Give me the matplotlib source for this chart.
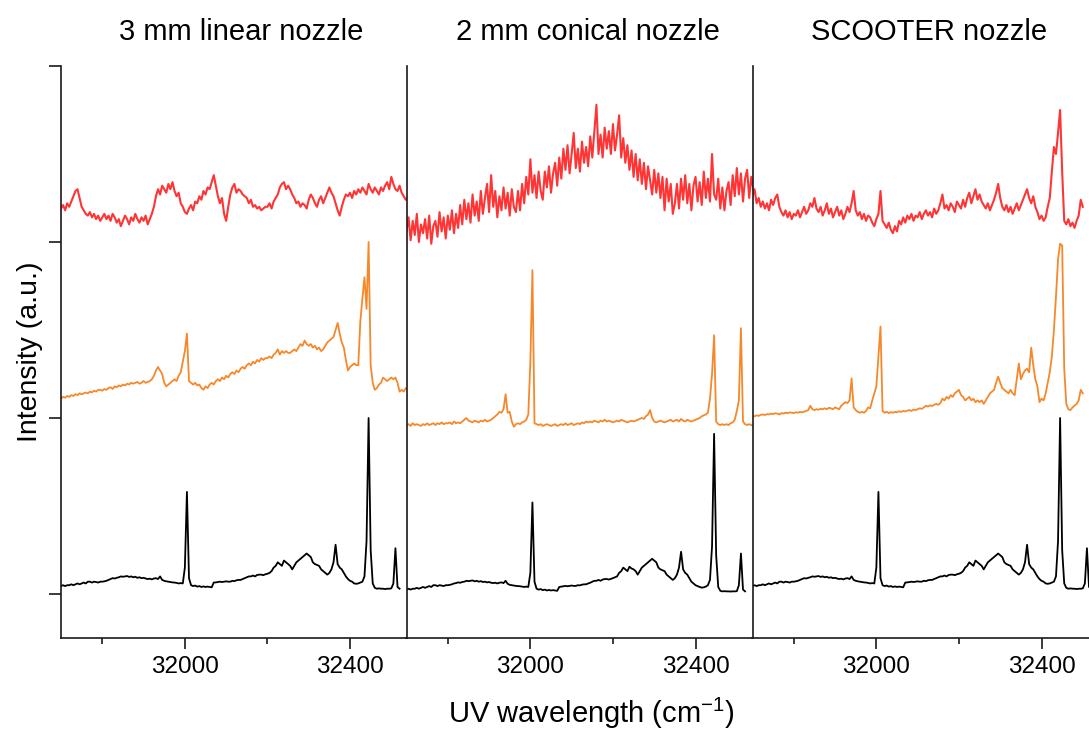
import numpy as np
import matplotlib.pyplot as plt

plt.rcParams['font.family'] = ['Liberation Sans', 'DejaVu Sans']
plt.rcParams['mathtext.fontset'] = 'custom'
plt.rcParams['mathtext.rm'] = 'Liberation Sans'
plt.rcParams['mathtext.default'] = 'regular'

# common wavenumber grid (cm-1), 5 cm-1 step
wavenumber = np.arange(31700, 32545, 5)

titles = ['3 mm linear nozzle', '2 mm conical nozzle', 'SCOOTER nozzle']

# reference spectrum (black), panels 1 and 3
black_ref = [
    .045, .05, .045, .05, .05, .055, .05, .055, .06, .055,
    .06, .065, .06, .07, .07, .065, .07, .068, .065, .07,
    .07, .072, .075, .08, .085, .09, .088, .092, .095, .1,
    .098, .1, .102, .097, .1, .095, .098, .092, .095, .09,
    .092, .088, .085, .087, .083, .088, .09, .085, .1, .08,
    .075, .072, .07, .068, .066, .065, .063, .06, .062, .06,
    .15, .58, .09, .05, .045, .048, .042, .045, .04, .043,
    .04, .042, .04, .038, .065, .066, .068, .07, .068, .07,
    .072, .07, .07, .075, .073, .078, .08, .08, .085, .09,
    .095, .1, .1, .105, .1, .108, .11, .11, .107, .112,
    .115, .12, .13, .15, .16, .18, .17, .16, .19, .18,
    .17, .16, .14, .16, .18, .19, .2, .21, .22, .23,
    .22, .21, .18, .17, .165, .16, .14, .13, .12, .11,
    .12, .14, .18, .28, .17, .15, .14, .12, .1, .085,
    .075, .07, .06, .058, .06, .065, .07, .1, .3, 1.0,
    .25, .06, .035, .03, .032, .03, .03, .028, .03, .03,
    .032, .06, .26, .04, .03]

# reference spectrum as drawn in panel 2
black_conical = [
    .025, .03, .025, .03, .03, .035, .03, .035, .04, .035,
    .04, .045, .04, .05, .05, .045, .05, .048, .045, .05,
    .05, .052, .055, .06, .062, .066, .064, .068, .07, .075,
    .073, .075, .077, .072, .075, .07, .073, .068, .07, .066,
    .068, .064, .062, .064, .06, .064, .066, .062, .075, .058,
    .052, .05, .048, .046, .045, .044, .042, .04, .042, .04,
    .12, .52, .07, .03, .025, .028, .022, .025, .02, .023,
    .02, .022, .02, .018, .04, .042, .044, .046, .044, .046,
    .048, .046, .046, .05, .049, .053, .055, .055, .06, .064,
    .07, .075, .075, .08, .075, .082, .085, .085, .082, .086,
    .09, .095, .1, .12, .13, .15, .14, .13, .155, .145,
    .14, .13, .11, .13, .15, .16, .17, .18, .19, .2,
    .19, .18, .15, .14, .135, .13, .11, .1, .09, .08,
    .09, .11, .15, .24, .14, .12, .11, .09, .07, .06,
    .05, .045, .04, .036, .038, .042, .05, .08, .27, .91,
    .22, .04, .018, .015, .016, .015, .015, .014, .015, .015,
    .016, .05, .23, .025, .015]

orange_linear = [
    .11, .12, .115, .125, .12, .13, .125, .135, .13, .14,
    .135, .14, .145, .14, .15, .145, .155, .15, .16, .16,
    .155, .165, .16, .17, .175, .165, .18, .175, .185, .18,
    .19, .185, .195, .19, .2, .195, .2, .205, .195, .2,
    .21, .2, .205, .21, .22, .24, .27, .29, .27, .25,
    .2, .18, .19, .2, .21, .22, .21, .24, .26, .32,
    .38, .48, .21, .2, .19, .2, .185, .19, .17, .16,
    .18, .17, .19, .2, .19, .21, .22, .21, .23, .22,
    .24, .23, .25, .26, .25, .27, .26, .28, .29, .28,
    .3, .31, .3, .32, .31, .33, .32, .34, .33, .34,
    .34, .35, .34, .36, .37, .39, .36, .38, .37, .38,
    .37, .37, .38, .39, .38, .4, .42, .41, .44, .42,
    .41, .42, .4, .41, .39, .4, .38, .39, .41, .43,
    .44, .45, .46, .5, .54, .48, .43, .4, .33, .27,
    .29, .3, .31, .3, .3, .55, .68, .8, .62, 1.0,
    .3, .2, .16, .17, .19, .2, .23, .22, .21, .22,
    .23, .22, .23, .2, .15, .16, .15, .17, .16]

orange_conical = [
    -.04, -.035, -.045, -.03, -.04, -.035, -.04, -.045, -.035, -.04,
    -.03, -.04, -.035, -.03, -.04, -.03, -.035, -.025, -.035, -.03,
    -.03, -.025, -.035, -.02, -.03, -.025, -.03, -.02, -.01, .0,
    -.015, -.02, -.025, -.015, -.02, -.025, -.015, -.02, -.01, -.02,
    -.015, -.01, .0, .01, .02, .035, .03, .05, .135, .03,
    .035, -.02, -.05, -.035, -.03, -.035, -.025, -.02, -.01, .02,
    .32, .84, -.03, -.035, -.04, -.035, -.045, -.04, -.035, -.04,
    -.045, -.04, -.035, -.045, -.04, -.035, -.04, -.03, -.04, -.035,
    -.03, -.04, -.035, -.03, -.035, -.025, -.03, -.02, -.025, -.02,
    -.025, -.015, -.02, -.025, -.015, -.02, -.01, -.02, -.015, -.02,
    -.025, -.02, -.015, -.02, -.01, -.015, -.02, -.025, -.02, -.015,
    -.02, -.015, -.01, -.005, .0, -.005, .01, .02, .045, .0,
    -.02, -.025, -.02, -.015, -.02, -.025, -.02, -.015, -.01, -.02,
    -.015, -.01, -.02, -.005, -.015, -.02, -.01, -.015, -.02, -.015,
    -.01, -.005, .0, .01, .015, .02, .03, .11, .25, .47,
    -.02, -.035, -.04, -.035, -.04, -.035, -.04, -.03, -.025, -.01,
    .04, .1, .51, -.02, -.035, -.04, -.035, -.04, -.045]

orange_scooter = [
    .008, .01, .015, .012, .018, .02, .017, .022, .02, .025,
    .022, .027, .025, .02, .028, .025, .03, .027, .032, .03,
    .028, .033, .03, .035, .032, .036, .04, .045, .07, .05,
    .045, .05, .047, .052, .05, .055, .05, .058, .055, .05,
    .06, .055, .05, .07, .08, .09, .085, .1, .225, .06,
    .045, .035, .03, .035, .03, .04, .06, .055, .1, .14,
    .18, .35, .52, .04, .03, .035, .028, .033, .03, .035,
    .032, .038, .035, .04, .037, .042, .045, .04, .048, .045,
    .05, .055, .052, .06, .07, .065, .072, .068, .075, .08,
    .075, .085, .11, .1, .12, .11, .13, .12, .14, .15,
    .16, .13, .12, .1, .11, .12, .1, .11, .09, .1,
    .09, .1, .08, .1, .12, .14, .15, .16, .2, .235,
    .2, .17, .16, .15, .14, .16, .14, .13, .22, .31,
    .22, .25, .27, .28, .26, .4, .3, .22, .18, .09,
    .11, .1, .14, .2, .26, .35, .5, .69, .9, .99,
    .98, .28, .08, .05, .045, .06, .07, .08, .1, .16,
    .14]

red_linear = [
    .19, .21, .18, .22, .2, .23, .26, .29, .3, .25,
    .2, .18, .16, .15, .17, .14, .16, .13, .15, .12,
    .14, .16, .13, .15, .12, .16, .14, .11, .13, .09,
    .12, .15, .13, .1, .14, .12, .16, .13, .11, .14,
    .12, .15, .1, .13, .16, .2, .26, .3, .27, .32,
    .3, .28, .33, .3, .34, .29, .26, .28, .22, .2,
    .17, .16, .19, .21, .18, .23, .22, .26, .24, .29,
    .27, .31, .3, .34, .38, .32, .26, .22, .25, .16,
    .12, .2, .27, .31, .33, .28, .3, .29, .27, .26,
    .25, .22, .24, .2, .21, .19, .2, .18, .19, .2,
    .2, .22, .19, .23, .25, .27, .31, .33, .34, .3,
    .32, .3, .27, .25, .22, .23, .2, .22, .21, .19,
    .24, .27, .25, .22, .2, .24, .26, .22, .25, .28,
    .31, .28, .26, .22, .18, .15, .2, .24, .27, .26,
    .28, .25, .29, .27, .3, .28, .31, .29, .27, .33,
    .3, .28, .31, .29, .27, .31, .29, .32, .34, .3,
    .37, .33, .3, .29, .32, .28, .26, .24, .25]

red_conical = [
    .06, .14, .01, .12, .04, .16, .0, .1, .05, .13,
    .02, .15, -.01, .09, .12, .03, .17, .06, .14, .02,
    .15, .07, .18, .05, .16, .08, .21, .1, .24, .13,
    .22, .11, .27, .15, .23, .12, .29, .16, .25, .33,
    .17, .38, .2, .29, .14, .26, .18, .31, .19, .28,
    .15, .3, .2, .17, .29, .18, .33, .22, .37, .27,
    .47, .28, .38, .25, .4, .29, .24, .4, .31, .43,
    .28, .39, .45, .32, .48, .36, .53, .41, .55, .39,
    .5, .62, .42, .53, .4, .57, .45, .54, .43, .6,
    .48, .63, .78, .5, .61, .48, .65, .53, .63, .5,
    .67, .52, .61, .72, .48, .59, .45, .55, .41, .52,
    .37, .5, .35, .47, .33, .45, .3, .43, .35, .27,
    .41, .28, .39, .25, .37, .18, .36, .23, .33, .16,
    .22, .33, .19, .36, .24, .38, .22, .33, .18, .32,
    .37, .23, .34, .21, .4, .25, .36, .23, .5, .27,
    .24, .36, .19, .31, .18, .29, .34, .21, .38, .26,
    .42, .27, .39, .23, .36, .41, .25, .37, .3]

red_scooter = [
    .26, .3, .22, .25, .2, .23, .19, .22, .18, .24,
    .21, .25, .27, .2, .17, .15, .18, .14, .17, .13,
    .16, .15, .18, .14, .17, .2, .16, .18, .22, .2,
    .25, .19, .17, .2, .15, .18, .22, .16, .19, .14,
    .17, .2, .15, .18, .13, .16, .2, .17, .22, .29,
    .18, .15, .17, .13, .16, .12, .15, .14, .11, .09,
    .13, .16, .29, .12, .1, .08, .11, .07, .05, .09,
    .06, .12, .1, .14, .11, .15, .13, .16, .12, .15,
    .14, .17, .13, .16, .18, .15, .17, .14, .19, .16,
    .18, .22, .27, .19, .21, .18, .22, .2, .17, .23,
    .21, .19, .24, .2, .25, .28, .22, .26, .3, .24,
    .27, .23, .21, .19, .22, .18, .21, .24, .28, .33,
    .25, .2, .18, .21, .17, .2, .16, .19, .22, .18,
    .21, .24, .27, .3, .25, .22, .26, .2, .17, .13,
    .15, .12, .14, .2, .25, .4, .54, .5, .62, .75,
    .4, .12, .1, .13, .09, .11, .08, .12, .15, .24,
    .2]

panels = [
    (black_ref, orange_linear, red_linear),
    (black_conical, orange_conical, red_conical),
    (black_ref, orange_scooter, red_scooter),
]

W, H = 1089, 733
fig = plt.figure(figsize=(W / 100, H / 100), dpi=100)

lefts = [61, 406.5, 752.5]
for k, (blk, org, red) in enumerate(panels):
    ax = fig.add_axes([lefts[k] / W, 95 / H, 346 / W, 572 / H])
    for vals, off, col, lw in [(blk, 0, 'black', 1.3),
                               (org, 1, '#f7882a', 1.3),
                               (red, 2, '#ff3535', 1.5)]:
        y = np.array(vals) + off
        ax.plot(wavenumber[:len(y)], y, color=col, lw=lw)
    ax.set_xlim(31700, 32538)
    ax.set_ylim(-0.25, 3.0)
    ax.spines['top'].set_visible(False)
    ax.spines['right'].set_visible(False)
    for s in ['left', 'bottom']:
        ax.spines[s].set_linewidth(1.2)
        ax.spines[s].set_color('#1a1a1a')
    ax.set_xticks([32000, 32400])
    ax.set_xticks([31800, 32200], minor=True)
    ax.tick_params(axis='x', which='major', direction='out', length=8,
                   width=1.2, labelsize=17.5, pad=5, color='#1a1a1a')
    ax.tick_params(axis='x', which='minor', direction='out', length=4.5,
                   width=1.2, color='#1a1a1a')
    if k == 0:
        ax.set_yticks([0, 1, 2, 3])
        ax.set_yticklabels([])
        ax.tick_params(axis='y', direction='out', length=8.5, width=1.2,
                       color='#1a1a1a')
    else:
        ax.set_yticks([])

title_x = [241, 587.5, 929]
for t, tx in zip(titles, title_x):
    fig.text(tx / W, 1 - 32 / H, t, ha='center', va='center', fontsize=21)

fig.text(30 / W, 1 - 352 / H, 'Intensity (a.u.)', rotation=90,
         ha='center', va='center', fontsize=20.5)
fig.text(591 / W, 1 - 713 / H, 'UV wavelength (cm$^{-1}$)',
         ha='center', va='center', fontsize=21)

fig.savefig('out.png', dpi=100)
